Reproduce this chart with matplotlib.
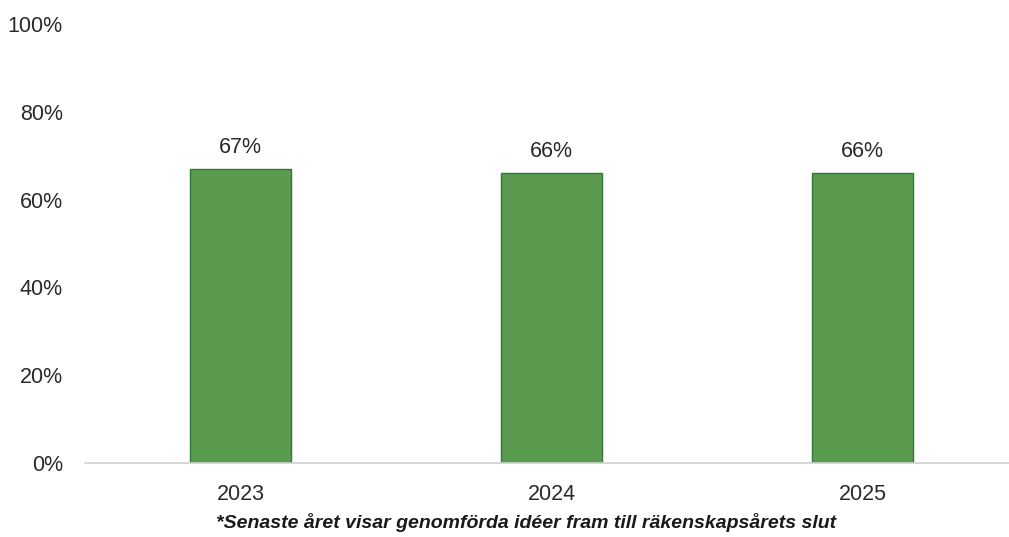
import matplotlib.pyplot as plt
from matplotlib.ticker import PercentFormatter

years = ['2023', '2024', '2025']
shares = [67, 66, 66]
yticks = [0, 20, 40, 60, 80, 100]
footnote = '*Senaste året visar genomförda idéer fram till räkenskapsårets slut'

plt.rcParams['font.family'] = ['Liberation Sans', 'DejaVu Sans']

fig = plt.figure(figsize=(10.09, 5.37), dpi=100)
ax = fig.add_axes([85 / 1009, 74 / 537, 924 / 1009, 439 / 537])

x = range(len(years))
ax.bar(x, shares, width=0.325, color='#5b9b4f', edgecolor='#2f7a33', linewidth=1.0)

for xi, v in zip(x, shares):
    ax.text(xi, v + 2.5, f'{v}%', ha='center', va='bottom', fontsize=15.5, color='#2a2a2a')

ax.set_xlim(-0.5, 2.471)
ax.set_ylim(0, 100)
ax.set_yticks(yticks)
ax.yaxis.set_major_formatter(PercentFormatter(decimals=0))
ax.set_xticks(list(x))
ax.set_xticklabels(years)
ax.tick_params(axis='both', length=0, labelsize=15.5, colors='#2a2a2a')
ax.tick_params(axis='y', pad=16)
ax.tick_params(axis='x', pad=15)

for side in ['top', 'right', 'left']:
    ax.spines[side].set_visible(False)
ax.spines['bottom'].set_color('#d0d0d0')
ax.spines['bottom'].set_linewidth(1.2)

fig.text(526 / 1009, 1 - 522 / 537, footnote, ha='center', va='center',
         fontsize=14, fontweight='bold', fontstyle='italic', color='#1a1a1a')

fig.savefig('out.png', dpi=100)
